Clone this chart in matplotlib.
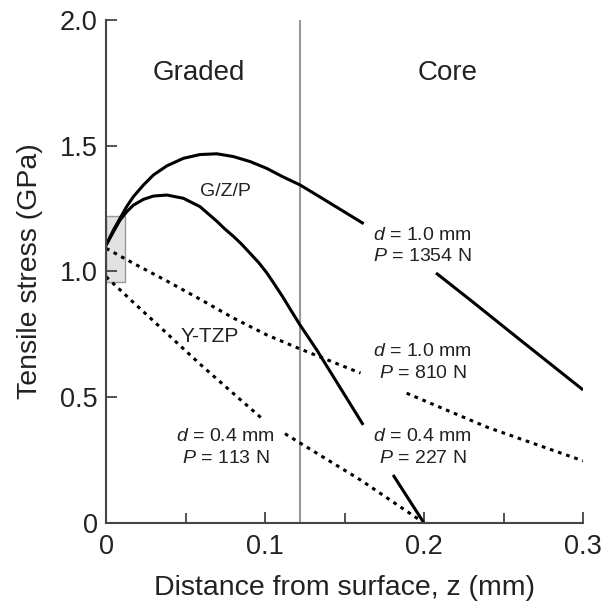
import matplotlib
matplotlib.use('Agg')
import matplotlib.pyplot as plt
import matplotlib.patches as mpatches

plt.rcParams['font.family'] = ['Liberation Sans', 'DejaVu Sans']
plt.rcParams['mathtext.fontset'] = 'custom'
plt.rcParams['mathtext.rm'] = 'Liberation Sans'
plt.rcParams['mathtext.it'] = 'Liberation Sans:italic'

# G/Z/P, d = 1.0 mm, P = 1354 N (solid, split by label)
gzp_big_x1 = [0.0, 0.0046, 0.0088, 0.013, 0.0172, 0.0235, 0.0298, 0.0382, 0.0486, 0.059, 0.0696,
              0.080, 0.0906, 0.101, 0.111, 0.122, 0.1325, 0.147, 0.162]
gzp_big_y1 = [1.105, 1.165, 1.212, 1.259, 1.298, 1.344, 1.384, 1.42, 1.45, 1.465, 1.468,
              1.457, 1.437, 1.41, 1.377, 1.344, 1.304, 1.248, 1.19]
gzp_big_x2 = [0.2075, 0.229, 0.26, 0.3]
gzp_big_y2 = [0.994, 0.887, 0.73, 0.529]

# G/Z/P, d = 0.4 mm, P = 227 N
gzp_small_x1 = [0.0, 0.0046, 0.0088, 0.013, 0.0172, 0.0235, 0.0298, 0.0382, 0.0486, 0.059, 0.0696,
                0.0745, 0.080, 0.085, 0.0906, 0.096, 0.101, 0.106, 0.111, 0.116, 0.122, 0.1325, 0.1617]
gzp_small_y1 = [1.105, 1.158, 1.205, 1.238, 1.264, 1.287, 1.30, 1.304, 1.291, 1.258, 1.20,
                1.17, 1.14, 1.11, 1.072, 1.035, 0.995, 0.948, 0.90, 0.848, 0.787, 0.688, 0.39]
gzp_small_x2 = [0.1805, 0.1995]
gzp_small_y2 = [0.191, 0.004]

# Y-TZP, d = 1.0 mm, P = 810 N
ytzp_big_x1 = [0.0, 0.017, 0.038, 0.059, 0.080, 0.101, 0.122, 0.16]
ytzp_big_y1 = [1.092, 1.033, 0.963, 0.89, 0.815, 0.748, 0.692, 0.596]
ytzp_big_x2 = [0.189, 0.24, 0.3]
ytzp_big_y2 = [0.516, 0.38, 0.247]

# Y-TZP, d = 0.4 mm, P = 113 N
ytzp_small_x1 = [0.0, 0.017, 0.038, 0.059, 0.080, 0.099]
ytzp_small_y1 = [0.979, 0.878, 0.755, 0.632, 0.515, 0.41]
ytzp_small_x2 = [0.1125, 0.122, 0.16, 0.2]
ytzp_small_y2 = [0.355, 0.318, 0.171, 0.0]

boundary_z = 0.122

fig = plt.figure(figsize=(6.03, 6.06), dpi=100)
ax = fig.add_axes([0.176, 0.137, 0.791, 0.83])

solid = dict(color='black', lw=2.2, solid_capstyle='butt', solid_joinstyle='round')
dotted = dict(color='black', lw=2.2, linestyle=(0, (1.2, 1.6)))

ax.axvline(boundary_z, color='#999999', lw=1.5, zorder=1)
ax.add_patch(mpatches.Rectangle((0, 0.958), 0.012, 0.262, facecolor='#e2e2e2',
                                edgecolor='#999999', lw=1.0, zorder=1))

ax.plot(gzp_big_x1, gzp_big_y1, **solid)
ax.plot(gzp_big_x2, gzp_big_y2, **solid)
ax.plot(gzp_small_x1, gzp_small_y1, **solid)
ax.plot(gzp_small_x2, gzp_small_y2, **solid)
ax.plot(ytzp_big_x1, ytzp_big_y1, **dotted)
ax.plot(ytzp_big_x2, ytzp_big_y2, **dotted)
ax.plot(ytzp_small_x1, ytzp_small_y1, **dotted)
ax.plot(ytzp_small_x2, ytzp_small_y2, **dotted)

# labels
ax.text(0.058, 1.79, 'Graded', fontsize=20, ha='center', va='center', color='#222222')
ax.text(0.215, 1.79, 'Core', fontsize=20, ha='center', va='center', color='#222222')
ax.text(0.075, 1.32, 'G/Z/P', fontsize=14, ha='center', va='center', color='#222222')
ax.text(0.065, 0.74, 'Y-TZP', fontsize=15, ha='center', va='center', color='#222222')

ann = dict(fontsize=14, ha='center', va='center', color='#222222')
ax.text(0.199, 1.145, r'$\it{d}$ = 1.0 mm', **ann)
ax.text(0.199, 1.058, r'$\it{P}$ = 1354 N', **ann)
ax.text(0.199, 0.68, r'$\it{d}$ = 1.0 mm', **ann)
ax.text(0.199, 0.593, r'$\it{P}$ = 810 N', **ann)
ax.text(0.199, 0.342, r'$\it{d}$ = 0.4 mm', **ann)
ax.text(0.199, 0.255, r'$\it{P}$ = 227 N', **ann)
ax.text(0.075, 0.342, r'$\it{d}$ = 0.4 mm', **ann)
ax.text(0.075, 0.255, r'$\it{P}$ = 113 N', **ann)

ax.set_xlim(0, 0.3)
ax.set_ylim(0, 2.0)
ax.set_xticks([0, 0.1, 0.2, 0.3])
ax.set_xticklabels(['0', '0.1', '0.2', '0.3'])
ax.set_xticks([0.05, 0.15, 0.25], minor=True)
ax.set_yticks([0, 0.5, 1.0, 1.5, 2.0])
ax.set_yticklabels(['0', '0.5', '1.0', '1.5', '2.0'])

for side in ['top', 'right']:
    ax.spines[side].set_visible(False)
for side in ['left', 'bottom']:
    ax.spines[side].set_color('#444444')
    ax.spines[side].set_linewidth(1.5)

ax.tick_params(which='both', direction='in', color='#444444', width=1.3,
               labelsize=19.5, labelcolor='#222222')
ax.tick_params(which='major', length=8)
ax.tick_params(which='minor', length=7)
ax.tick_params(axis='x', which='major', pad=8)
ax.tick_params(axis='y', which='major', pad=6)

ax.set_xlabel('Distance from surface, z (mm)', fontsize=20.5, color='#222222', labelpad=11)
ax.set_ylabel('Tensile stress (GPa)', fontsize=20.5, color='#222222', labelpad=12)

fig.savefig('out.png', dpi=100)
